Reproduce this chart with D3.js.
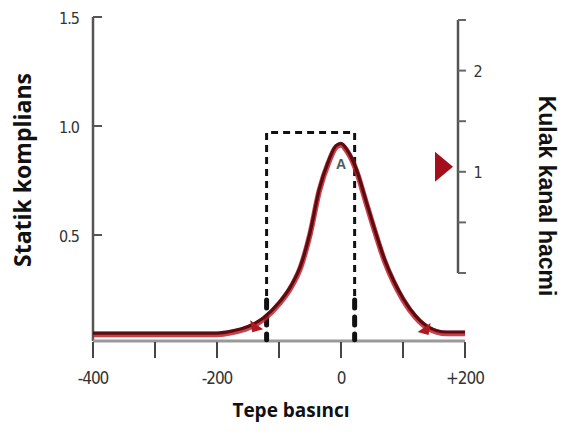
<!DOCTYPE html>
<html><head><meta charset="utf-8">
<script src="https://cdn.jsdelivr.net/npm/d3@7"></script>
<style>body{margin:0;background:#fff}svg{display:block}</style>
</head><body>
<svg id="c" width="565" height="439"></svg>
<script>
// ---- data ----
const pressure = [-400,-300,-200,-175,-150,-125,-100,-80,-65,-50,-35,-20,-8,0,10,25,40,55,70,85,100,120,140,170,200];
const compliance = [0.05,0.05,0.05,0.06,0.08,0.12,0.19,0.27,0.36,0.51,0.71,0.84,0.91,0.92,0.89,0.80,0.66,0.52,0.39,0.29,0.21,0.13,0.08,0.055,0.055];
const xTicks = [-400,-300,-200,-100,0,100,200];
const xTickLabels = {"-400":"-400","-200":"-200","0":"0","200":"+200"};
const yLeftTicks = [0.5,1.0,1.5];
const yLeftLabels = ["0.5","1.0","1.5"];
const yRightTicks = [0,0.5,1,1.5,2,2.5];
const yRightLabels = {"1":"1","2":"2"};
const boxPressure = [-120, 22];
const boxTop = 0.97, boxBottom = 0.02;
const arrowMarks = [{p:-140, v:0.095, dir:-1},{p:138, v:0.082, dir:1}];
const canalVolume = 1.05;
const peakLabel = {p:0, v:0.82, text:"A"};

const svg = d3.select("#c");
const x = d3.scaleLinear().domain([-400,200]).range([93,465]);
const y = d3.scaleLinear().domain([0,1.5]).range([344,17]);
const yR = d3.scaleLinear().domain([0,2.5]).range([273,20]);
const tickFont = "DejaVu Sans Condensed, Liberation Sans Narrow, Liberation Sans, Arial";

// left axis
const gL = svg.append("g").attr("transform","translate(93,0)");
gL.append("line").attr("y1",y(1.5)).attr("y2",341).attr("stroke","#555").attr("stroke-width",2.5);
gL.selectAll(".t").data(yLeftTicks).join("line").attr("x1",0).attr("x2",9)
  .attr("y1",d=>y(d)).attr("y2",d=>y(d)).attr("stroke","#555").attr("stroke-width",2);
gL.selectAll(".l").data(yLeftTicks).join("text").attr("x",-14).attr("y",d=>y(d)+2)
  .attr("text-anchor","end").attr("dominant-baseline","middle")
  .attr("font-family",tickFont).attr("font-size",16)
  .attr("letter-spacing","-1").attr("fill","#333").text((d,i)=>yLeftLabels[i]);

// x axis
const gX = svg.append("g");
gX.append("line").attr("x1",x(-400)).attr("x2",x(200)).attr("y1",341).attr("y2",341)
  .attr("stroke","#999").attr("stroke-width",3);
gX.selectAll(".t").data(xTicks).join("line").attr("x1",d=>x(d)).attr("x2",d=>x(d))
  .attr("y1",342).attr("y2",358).attr("stroke","#444").attr("stroke-width",2);
gX.selectAll(".l").data(xTicks.filter(d=>xTickLabels[d]!==undefined)).join("text")
  .attr("x",d=>x(d)).attr("y",379).attr("text-anchor","middle").attr("dominant-baseline","middle")
  .attr("font-family",tickFont).attr("font-size",17)
  .attr("letter-spacing","-1").attr("fill","#333").text(d=>xTickLabels[d]);

// right axis
const gR = svg.append("g").attr("transform","translate(458,0)");
gR.append("line").attr("y1",yR(2.5)).attr("y2",yR(0)).attr("stroke","#555").attr("stroke-width",2.5);
gR.selectAll(".t").data(yRightTicks).join("line").attr("x1",0).attr("x2",8)
  .attr("y1",d=>yR(d)).attr("y2",d=>yR(d)).attr("stroke","#666").attr("stroke-width",2);
gR.selectAll(".l").data(yRightTicks.filter(d=>yRightLabels[d])).join("text")
  .attr("x",20).attr("y",d=>yR(d)+2).attr("text-anchor","middle").attr("dominant-baseline","middle")
  .attr("font-family",tickFont).attr("font-size",16)
  .attr("fill","#333").text(d=>yRightLabels[d]);

// canal volume marker
const ty = yR(canalVolume);
svg.append("path").attr("d",`M435,${ty-15}L453,${ty}L435,${ty+15}Z`).attr("fill","#a3101c");

// dashed box
const bx0 = x(boxPressure[0]), bx1 = x(boxPressure[1]), byT = y(boxTop), byB = y(boxBottom), byMid = y(0.22);
const dashG = svg.append("g").attr("stroke","#111").attr("fill","none");
dashG.append("path").attr("d",`M${bx0},${byMid}L${bx0},${byT}L${bx1},${byT}L${bx1},${byMid}`)
  .attr("stroke-width",3).attr("stroke-dasharray","7,5");
[bx0,bx1].forEach(bx=>{
  dashG.append("line").attr("x1",bx).attr("x2",bx).attr("y1",byMid+4).attr("y2",byB)
    .attr("stroke-width",5).attr("stroke-linecap","round").attr("stroke-dasharray","8,9");
});

// curve
const line = d3.line().x((d,i)=>x(pressure[i])).y((d,i)=>y(compliance[i])).curve(d3.curveMonotoneX);
const pts = compliance.map((v,i)=>i);
svg.append("path").datum(pts).attr("d",line).attr("fill","none").attr("stroke","#c0202a")
  .attr("stroke-width",5.5).attr("transform","translate(0,1.5)").attr("opacity",0.85);
svg.append("path").datum(pts).attr("d",line).attr("fill","none").attr("stroke","#5a0c10")
  .attr("stroke-width",3.2);

// arrowheads along curve
arrowMarks.forEach(a=>{
  const px = x(a.p), py = y(a.v);
  const s = a.dir;
  svg.append("path").attr("d",`M${px-9*s},${py+6}L${px+4*s},${py-3}L${px+2*s},${py+9}Z`)
    .attr("fill","#b01820");
});

// peak label
svg.append("text").attr("x",x(peakLabel.p)).attr("y",y(peakLabel.v)).attr("text-anchor","middle")
  .attr("dominant-baseline","middle").attr("font-family","Liberation Sans, Arial").attr("font-weight","bold")
  .attr("font-size",14).attr("fill","#4d5a5a").text(peakLabel.text);

// titles
svg.append("text").attr("transform","translate(25,170) rotate(-90)").attr("text-anchor","middle")
  .attr("dominant-baseline","middle").attr("font-family","Open Sans, Lato").attr("font-weight","bold")
  .attr("font-size",23).attr("fill","#111").text("Statik komplians");
svg.append("text").attr("transform","translate(545,196) rotate(90)").attr("text-anchor","middle")
  .attr("dominant-baseline","middle").attr("font-family","Liberation Sans, Arial").attr("font-weight","bold")
  .attr("font-size",23).attr("fill","#111").text("Kulak kanal hacmi");
svg.append("text").attr("x",291).attr("y",412).attr("text-anchor","middle")
  .attr("dominant-baseline","middle").attr("font-family","Open Sans, Lato").attr("font-weight","bold")
  .attr("font-size",19).attr("fill","#111").text("Tepe basıncı");
</script>
</body></html>
